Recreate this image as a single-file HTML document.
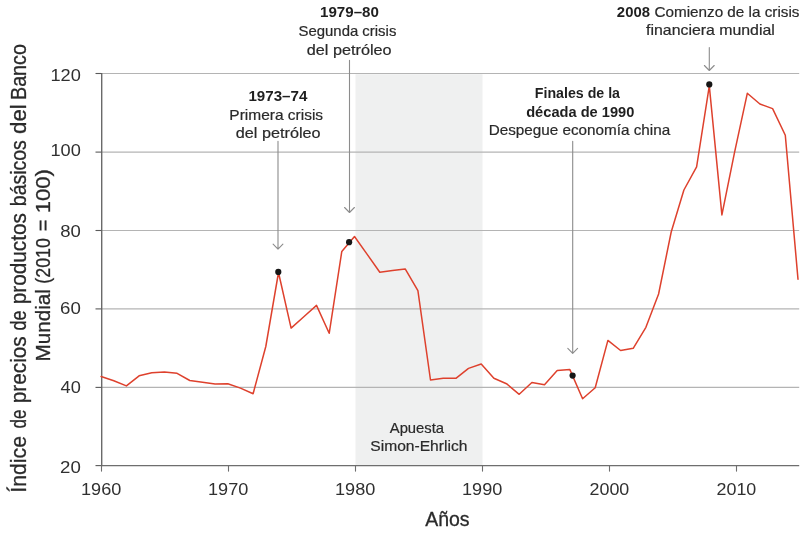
<!DOCTYPE html>
<html lang="es"><head><meta charset="utf-8"><title>Índice de precios de productos básicos</title>
<style>
html,body{margin:0;padding:0;background:#fff;}
body{width:810px;height:536px;overflow:hidden;}
svg{display:block;}
text{font-family:"Liberation Sans",sans-serif;fill:#2a2a2a;stroke:#2a2a2a;stroke-width:0.2px;}
.b{font-weight:bold;fill:#1f1f1f;stroke:none;}
.tk{stroke:none;fill:#303030;}
.ti{stroke:#2a2a2a;stroke-width:0.3px;}
</style></head><body>
<svg width="810" height="536" viewBox="0 0 810 536">
<rect width="810" height="536" fill="#fff"/>
<rect x="355.5" y="74.2" width="127.0" height="391.4" fill="#eff0f0"/>

<line x1="101.5" y1="73.5" x2="799.2" y2="73.5" stroke="#b4b4b4" stroke-width="1.1"/>
<line x1="101.5" y1="152.1" x2="799.2" y2="152.1" stroke="#b4b4b4" stroke-width="1.1"/>
<line x1="101.5" y1="230.5" x2="799.2" y2="230.5" stroke="#b4b4b4" stroke-width="1.1"/>
<line x1="101.5" y1="308.9" x2="799.2" y2="308.9" stroke="#b4b4b4" stroke-width="1.1"/>
<line x1="101.5" y1="387.4" x2="799.2" y2="387.4" stroke="#b4b4b4" stroke-width="1.1"/>
<line x1="101.7" y1="73" x2="101.7" y2="466.20000000000005" stroke="#6a6a6a" stroke-width="1.4"/>
<line x1="100.9" y1="465.6" x2="799.2" y2="465.6" stroke="#6e6e6e" stroke-width="1.3"/>
<line x1="95.5" y1="73.5" x2="101.5" y2="73.5" stroke="#5a5a5a" stroke-width="1.1"/>
<line x1="95.5" y1="152.1" x2="101.5" y2="152.1" stroke="#5a5a5a" stroke-width="1.1"/>
<line x1="95.5" y1="230.5" x2="101.5" y2="230.5" stroke="#5a5a5a" stroke-width="1.1"/>
<line x1="95.5" y1="308.9" x2="101.5" y2="308.9" stroke="#5a5a5a" stroke-width="1.1"/>
<line x1="95.5" y1="387.4" x2="101.5" y2="387.4" stroke="#5a5a5a" stroke-width="1.1"/>
<line x1="95.5" y1="465.6" x2="101.5" y2="465.6" stroke="#5a5a5a" stroke-width="1.1"/>
<line x1="101.5" y1="465.6" x2="101.5" y2="471.6" stroke="#6e6e6e" stroke-width="1.1"/>
<line x1="228.5" y1="465.6" x2="228.5" y2="471.6" stroke="#6e6e6e" stroke-width="1.1"/>
<line x1="355.5" y1="465.6" x2="355.5" y2="471.6" stroke="#6e6e6e" stroke-width="1.1"/>
<line x1="482.5" y1="465.6" x2="482.5" y2="471.6" stroke="#6e6e6e" stroke-width="1.1"/>
<line x1="609.5" y1="465.6" x2="609.5" y2="471.6" stroke="#6e6e6e" stroke-width="1.1"/>
<line x1="736.5" y1="465.6" x2="736.5" y2="471.6" stroke="#6e6e6e" stroke-width="1.1"/>
<text class="tk" x="50.41" y="80.5" font-size="17" textLength="30.40" lengthAdjust="spacingAndGlyphs">120</text>
<text class="tk" x="50.41" y="156.2" font-size="17" textLength="30.40" lengthAdjust="spacingAndGlyphs">100</text>
<text class="tk" x="60.19" y="236.5" font-size="17" textLength="20.63" lengthAdjust="spacingAndGlyphs">80</text>
<text class="tk" x="60.05" y="314.3" font-size="17" textLength="20.78" lengthAdjust="spacingAndGlyphs">60</text>
<text class="tk" x="60.58" y="392.5" font-size="17" textLength="20.23" lengthAdjust="spacingAndGlyphs">40</text>
<text class="tk" x="60.06" y="472.5" font-size="17" textLength="20.77" lengthAdjust="spacingAndGlyphs">20</text>
<text class="tk" x="81.02" y="494.8" font-size="17" textLength="40.29" lengthAdjust="spacingAndGlyphs">1960</text>
<text class="tk" x="208.02" y="494.8" font-size="17" textLength="40.29" lengthAdjust="spacingAndGlyphs">1970</text>
<text class="tk" x="335.02" y="494.8" font-size="17" textLength="40.29" lengthAdjust="spacingAndGlyphs">1980</text>
<text class="tk" x="462.02" y="494.8" font-size="17" textLength="40.29" lengthAdjust="spacingAndGlyphs">1990</text>
<text class="tk" x="589.50" y="494.8" font-size="17" textLength="39.80" lengthAdjust="spacingAndGlyphs">2000</text>
<text class="tk" x="716.50" y="494.8" font-size="17" textLength="39.80" lengthAdjust="spacingAndGlyphs">2010</text>
<text class="ti" x="425.16" y="526.3" font-size="20" textLength="44.44" lengthAdjust="spacingAndGlyphs">Años</text>
<text class="ti" transform="translate(25.9,491.2) rotate(-90)" x="-1.47" y="0" font-size="21.5" textLength="56.61" lengthAdjust="spacingAndGlyphs">Índice</text>
<text class="ti" transform="translate(25.9,427.7) rotate(-90)" x="-0.72" y="0" font-size="21.5" textLength="18.97" lengthAdjust="spacingAndGlyphs">de</text>
<text class="ti" transform="translate(25.9,401.9) rotate(-90)" x="-1.34" y="0" font-size="21.5" textLength="66.99" lengthAdjust="spacingAndGlyphs">precios</text>
<text class="ti" transform="translate(25.9,329.7) rotate(-90)" x="-0.75" y="0" font-size="21.5" textLength="19.95" lengthAdjust="spacingAndGlyphs">de</text>
<text class="ti" transform="translate(25.9,303.0) rotate(-90)" x="-1.34" y="0" font-size="21.5" textLength="91.29" lengthAdjust="spacingAndGlyphs">productos</text>
<text class="ti" transform="translate(25.9,204.9) rotate(-90)" x="-1.25" y="0" font-size="21.5" textLength="65.96" lengthAdjust="spacingAndGlyphs">básicos</text>
<text class="ti" transform="translate(25.9,133.0) rotate(-90)" x="-0.94" y="0" font-size="21.5" textLength="29.73" lengthAdjust="spacingAndGlyphs">del</text>
<text class="ti" transform="translate(25.9,98.4) rotate(-90)" x="-1.62" y="0" font-size="21.5" textLength="55.95" lengthAdjust="spacingAndGlyphs">Banco</text>
<text class="ti" transform="translate(50.3,359.9) rotate(-90)" x="-1.70" y="0" font-size="21" textLength="72.48" lengthAdjust="spacingAndGlyphs">Mundial</text>
<text class="ti" transform="translate(50.3,282.6) rotate(-90)" x="-1.11" y="0" font-size="21" textLength="45.60" lengthAdjust="spacingAndGlyphs">(2010</text>
<text class="ti" transform="translate(50.3,230.3) rotate(-90)" x="-0.97" y="0" font-size="21" textLength="11.66" lengthAdjust="spacingAndGlyphs">=</text>
<text class="ti" transform="translate(50.3,211.7) rotate(-90)" x="-1.68" y="0" font-size="21" textLength="44.15" lengthAdjust="spacingAndGlyphs">100)</text>
<path d="M278.0 141.3V249.1M273.1 244.1L278.0 249.1L282.9 244.1" fill="none" stroke="#8c8c8c" stroke-width="1.1" stroke-linecap="round" stroke-linejoin="round"/>
<path d="M349.5 60.3V212.5M344.6 207.5L349.5 212.5L354.4 207.5" fill="none" stroke="#8c8c8c" stroke-width="1.1" stroke-linecap="round" stroke-linejoin="round"/>
<path d="M572.7 141.2V353.3M567.8 348.3L572.7 353.3L577.6 348.3" fill="none" stroke="#8c8c8c" stroke-width="1.1" stroke-linecap="round" stroke-linejoin="round"/>
<path d="M709.3 47.5V70.5M704.4 65.5L709.3 70.5L714.2 65.5" fill="none" stroke="#8c8c8c" stroke-width="1.1" stroke-linecap="round" stroke-linejoin="round"/>
<polyline points="101.1,376.5 113.8,380.7 126.4,385.9 139.1,375.8 151.8,372.8 164.4,372.1 177.1,373.3 189.8,380.5 202.5,382.2 215.1,384.0 227.8,383.7 240.5,388.1 253.1,393.8 265.8,346.5 278.5,272.5 291.1,328.1 303.8,316.7 316.5,305.4 329.2,333.3 341.8,251.4 354.5,236.5 367.2,254.4 379.8,272.3 392.5,270.6 405.2,268.9 417.9,290.6 430.5,380.0 443.2,378.3 455.9,378.3 468.5,368.4 481.2,364.0 493.9,378.3 506.5,383.7 519.2,394.3 531.9,382.5 544.5,384.7 557.2,370.4 569.9,369.6 582.6,398.8 595.2,387.7 607.9,340.4 620.6,350.5 633.2,348.3 645.9,327.3 658.6,294.0 671.2,232.0 683.9,190.0 696.6,166.8 709.3,85.9 721.9,214.9 734.6,152.2 747.3,93.3 759.9,104.0 772.6,108.6 785.3,135.3 798.0,279.2" fill="none" stroke="#de412d" stroke-width="1.5" stroke-linejoin="round" stroke-linecap="round"/>
<circle cx="278.3" cy="271.9" r="3.1" fill="#161616"/>
<circle cx="349.1" cy="242.2" r="3.1" fill="#161616"/>
<circle cx="572.6" cy="375.6" r="3.1" fill="#161616"/>
<circle cx="709.3" cy="84.4" r="3.1" fill="#161616"/>
<text class="b" x="248.45" y="100.7" font-size="14" textLength="58.93" lengthAdjust="spacingAndGlyphs">1973–74</text>
<text x="229.33" y="119.5" font-size="14.5" textLength="93.73" lengthAdjust="spacingAndGlyphs">Primera crisis</text>
<text x="235.82" y="138.3" font-size="14.5" textLength="84.76" lengthAdjust="spacingAndGlyphs">del petróleo</text>
<text class="b" x="320.05" y="17.2" font-size="14" textLength="58.87" lengthAdjust="spacingAndGlyphs">1979–80</text>
<text x="298.52" y="35.8" font-size="14.5" textLength="97.82" lengthAdjust="spacingAndGlyphs">Segunda crisis</text>
<text x="306.82" y="54.5" font-size="14.5" textLength="84.76" lengthAdjust="spacingAndGlyphs">del petróleo</text>
<text class="b" x="534.85" y="97.8" font-size="14" textLength="85.16" lengthAdjust="spacingAndGlyphs">Finales de la</text>
<text class="b" x="526.20" y="116.5" font-size="14" textLength="108.10" lengthAdjust="spacingAndGlyphs">década de 1990</text>
<text x="488.65" y="135.2" font-size="14.5" textLength="181.55" lengthAdjust="spacingAndGlyphs">Despegue economía china</text>
<text class="b" x="616.88" y="16.8" font-size="14" textLength="33.07" lengthAdjust="spacingAndGlyphs">2008</text>
<text x="654.43" y="16.8" font-size="14.5" textLength="145.03" lengthAdjust="spacingAndGlyphs">Comienzo de la crisis</text>
<text x="646.08" y="35.4" font-size="14.5" textLength="128.69" lengthAdjust="spacingAndGlyphs">financiera mundial</text>
<text x="389.77" y="432.6" font-size="14.5" textLength="54.33" lengthAdjust="spacingAndGlyphs">Apuesta</text>
<text x="370.29" y="451.4" font-size="14.5" textLength="97.12" lengthAdjust="spacingAndGlyphs">Simon-Ehrlich</text>
</svg>
</body></html>
